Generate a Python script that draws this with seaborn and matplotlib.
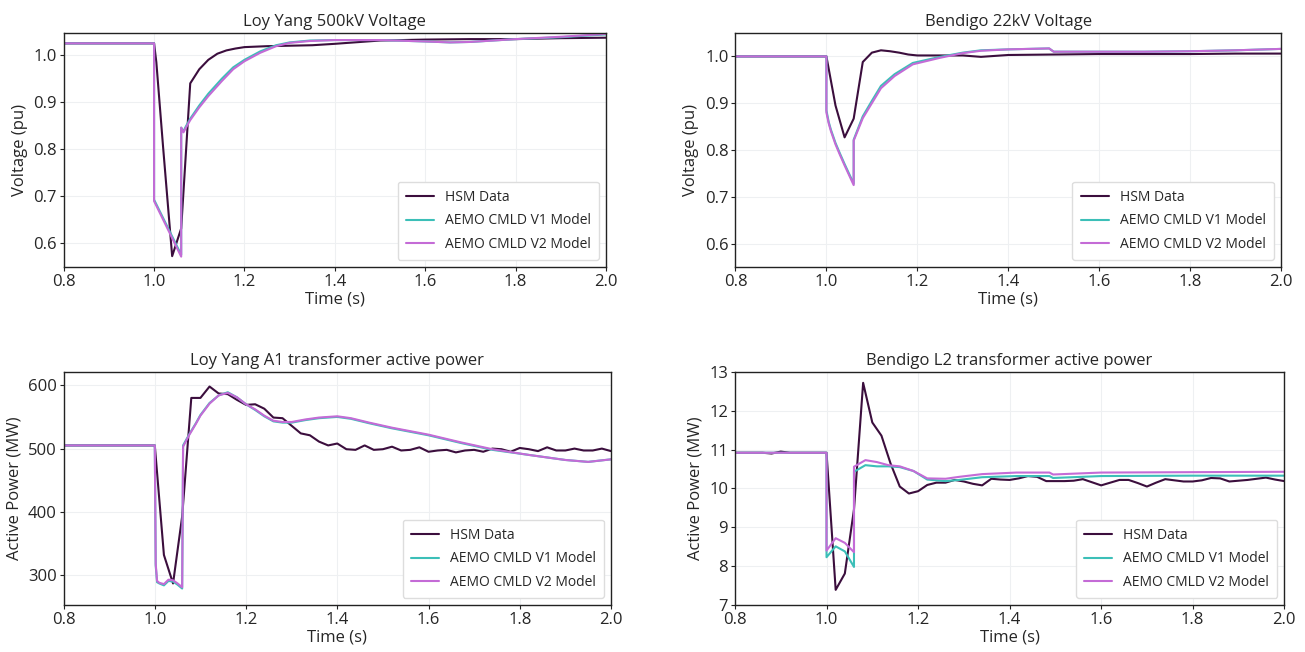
import numpy as np
import pandas as pd
import matplotlib
matplotlib.use("Agg")
import matplotlib.pyplot as plt
import seaborn as sns

# ---------------- data ----------------
# Panel 1: Loy Yang 500kV Voltage
ly_v_hsm_t = [0.8, 1.0, 1.005, 1.02, 1.04, 1.06, 1.08, 1.10, 1.12, 1.14, 1.16, 1.18, 1.20, 1.25,
              1.30, 1.35, 1.40, 1.50, 1.60, 1.70, 1.80, 1.90, 2.00]
ly_v_hsm = [1.025, 1.025, 0.985, 0.804, 0.573, 0.632, 0.940, 0.970, 0.990, 1.003, 1.010, 1.014, 1.017,
            1.019, 1.020, 1.021, 1.024, 1.031, 1.033, 1.034, 1.034, 1.036, 1.037]
ly_v_mod_t = [0.8, 1.0, 1.0, 1.06, 1.06, 1.065, 1.07, 1.08, 1.10, 1.12, 1.15, 1.175, 1.20, 1.235,
              1.27, 1.30, 1.345, 1.40, 1.50, 1.60, 1.655, 1.70, 1.80, 1.90, 2.00]
ly_v_v1 = [1.025, 1.025, 0.693, 0.576, 0.846, 0.838, 0.848, 0.865, 0.893, 0.918, 0.950, 0.974, 0.990,
           1.008, 1.021, 1.027, 1.031, 1.032, 1.032, 1.029, 1.027, 1.028, 1.034, 1.038, 1.044]
ly_v_v2 = [1.025, 1.025, 0.690, 0.572, 0.846, 0.836, 0.845, 0.862, 0.889, 0.913, 0.945, 0.970, 0.987,
           1.005, 1.019, 1.026, 1.030, 1.032, 1.032, 1.029, 1.027, 1.028, 1.034, 1.039, 1.045]

# Panel 2: Bendigo 22kV Voltage
bd_v_hsm_t = [0.8, 1.0, 1.02, 1.04, 1.06, 1.08, 1.10, 1.12, 1.14, 1.16, 1.18, 1.20, 1.25, 1.30,
              1.34, 1.40, 1.50, 1.60, 1.70, 1.80, 1.90, 2.00]
bd_v_hsm = [1.0, 1.0, 0.895, 0.827, 0.867, 0.988, 1.008, 1.013, 1.011, 1.008, 1.004, 1.002, 1.002,
            1.002, 0.999, 1.003, 1.004, 1.005, 1.005, 1.005, 1.006, 1.006]
bd_v_mod_t = [0.8, 1.0, 1.0, 1.005, 1.01, 1.02, 1.03, 1.04, 1.05, 1.06, 1.06, 1.08, 1.10, 1.12,
              1.15, 1.19, 1.25, 1.30, 1.34, 1.40, 1.49, 1.50, 1.60, 1.70, 1.80, 1.90, 2.00]
bd_v_v1 = [1.0, 1.0, 0.885, 0.860, 0.843, 0.815, 0.792, 0.770, 0.749, 0.728, 0.822, 0.872, 0.905,
           0.937, 0.962, 0.986, 0.999, 1.008, 1.013, 1.015, 1.017, 1.010, 1.010, 1.010, 1.011, 1.013, 1.016]
bd_v_v2 = [1.0, 1.0, 0.880, 0.857, 0.840, 0.812, 0.789, 0.767, 0.746, 0.725, 0.820, 0.868, 0.900,
           0.932, 0.958, 0.983, 0.997, 1.007, 1.012, 1.015, 1.017, 1.010, 1.010, 1.010, 1.011, 1.013, 1.016]

# Panel 3: Loy Yang A1 transformer active power
ly_p_hsm_t = [0.8, 1.0, 1.02, 1.04, 1.06, 1.08, 1.10, 1.12, 1.14, 1.16, 1.18, 1.20, 1.22, 1.24, 1.26,
              1.28, 1.30, 1.32, 1.34, 1.36, 1.38, 1.40, 1.42, 1.44, 1.46, 1.48, 1.50, 1.52, 1.54,
              1.56, 1.58, 1.60, 1.62, 1.64, 1.66, 1.68, 1.70, 1.72, 1.74, 1.76, 1.78, 1.80, 1.82,
              1.84, 1.86, 1.88, 1.90, 1.92, 1.94, 1.96, 1.98, 2.00]
ly_p_hsm = [505, 505, 332, 287, 393, 580, 580, 598, 587, 586, 577, 569, 570, 563, 549,
            548, 536, 524, 521, 511, 505, 508, 499, 498, 505, 498, 499, 503, 497,
            498, 502, 495, 497, 498, 494, 497, 498, 495, 500, 499, 495, 501, 499,
            496, 502, 497, 497, 500, 497, 497, 500, 496]
ly_p_mod_t = [0.8, 1.0, 1.002, 1.005, 1.01, 1.02, 1.03, 1.04, 1.05, 1.06, 1.062, 1.075, 1.09, 1.10,
              1.12, 1.14, 1.16, 1.18, 1.20, 1.22, 1.24, 1.26, 1.28, 1.30, 1.33, 1.36, 1.40, 1.43,
              1.47, 1.52, 1.60, 1.67, 1.74, 1.82, 1.90, 1.95, 2.00]
ly_p_v1 = [505, 505, 315, 289, 287, 284, 291, 290, 285, 279, 505, 522, 540, 553,
           572, 584, 589, 581, 570, 561, 551, 543, 541, 541, 545, 548, 550, 547,
           540, 532, 521, 509, 498, 490, 482, 479, 483]
ly_p_v2 = [505, 505, 318, 291, 288, 286, 293, 292, 287, 281, 503, 521, 539, 552,
           571, 584, 588, 581, 570, 562, 552, 544, 542, 542, 546, 549, 551, 548,
           541, 533, 522, 510, 499, 490, 482, 479, 483]

# Panel 4: Bendigo L2 transformer active power
bd_p_hsm_t = [0.8, 0.86, 0.88, 0.90, 0.92, 1.0, 1.02, 1.04, 1.06, 1.08, 1.10, 1.12, 1.14, 1.16, 1.18,
              1.20, 1.22, 1.24, 1.26, 1.28, 1.30, 1.32, 1.34, 1.36, 1.38, 1.40, 1.42, 1.44, 1.46,
              1.48, 1.50, 1.52, 1.54, 1.56, 1.58, 1.60, 1.62, 1.64, 1.66, 1.68, 1.70, 1.72, 1.74,
              1.76, 1.78, 1.80, 1.82, 1.84, 1.86, 1.88, 1.90, 1.92, 1.94, 1.96, 1.98, 2.00]
bd_p_hsm = [10.92, 10.92, 10.90, 10.95, 10.92, 10.92, 7.39, 7.81, 9.46, 12.72, 11.70, 11.36, 10.64,
            10.05, 9.87, 9.93, 10.09, 10.15, 10.15, 10.22, 10.18, 10.12, 10.08, 10.25, 10.23,
            10.22, 10.26, 10.32, 10.30, 10.19, 10.19, 10.19, 10.20, 10.24, 10.16, 10.08, 10.15,
            10.22, 10.22, 10.14, 10.05, 10.15, 10.24, 10.21, 10.18, 10.18, 10.21, 10.27, 10.26,
            10.18, 10.20, 10.22, 10.25, 10.28, 10.23, 10.19]
bd_p_mod_t = [0.8, 1.0, 1.0, 1.02, 1.04, 1.06, 1.06, 1.085, 1.11, 1.135, 1.16, 1.19, 1.22, 1.26,
              1.29, 1.34, 1.415, 1.487, 1.495, 1.60, 1.80, 2.00]
bd_p_v1 = [10.92, 10.92, 8.23, 8.51, 8.38, 7.98, 10.43, 10.60, 10.57, 10.57, 10.55, 10.45, 10.23,
           10.19, 10.22, 10.29, 10.32, 10.32, 10.27, 10.32, 10.33, 10.33]
bd_p_v2 = [10.92, 10.92, 8.40, 8.72, 8.60, 8.36, 10.56, 10.73, 10.68, 10.60, 10.57, 10.45, 10.26,
           10.25, 10.30, 10.37, 10.41, 10.41, 10.36, 10.41, 10.42, 10.43]

series_labels = ["HSM Data", "AEMO CMLD V1 Model", "AEMO CMLD V2 Model"]
titles = ["Loy Yang 500kV Voltage", "Bendigo 22kV Voltage",
          "Loy Yang A1 transformer active power", "Bendigo L2 transformer active power"]
ylabels = ["Voltage (pu)", "Voltage (pu)", "Active Power (MW)", "Active Power (MW)"]
xlabel = "Time (s)"

# ---------------- style ----------------
sns.set_style("whitegrid", {"grid.color": "#eef0f2", "axes.edgecolor": "#222222"})
plt.rcParams["font.family"] = ["Open Sans", "DejaVu Sans"]

colors = ["#3b0e3d", "#3cbfb8", "#c46bd6"]

fig = plt.figure(figsize=(13.05, 6.52), dpi=100)
rects = [
    [0.0488, 0.5905, 0.4156, 0.3589],
    [0.5636, 0.5905, 0.4180, 0.3589],
    [0.0487, 0.0721, 0.4195, 0.3574],
    [0.5632, 0.0721, 0.4209, 0.3574],
]
panels = [
    (ly_v_hsm_t, ly_v_hsm, ly_v_mod_t, ly_v_v1, ly_v_v2, (0.55, 1.047), [0.6, 0.7, 0.8, 0.9, 1.0], "{:.1f}"),
    (bd_v_hsm_t, bd_v_hsm, bd_v_mod_t, bd_v_v1, bd_v_v2, (0.55, 1.05), [0.6, 0.7, 0.8, 0.9, 1.0], "{:.1f}"),
    (ly_p_hsm_t, ly_p_hsm, ly_p_mod_t, ly_p_v1, ly_p_v2, (253, 621), [300, 400, 500, 600], "{:.0f}"),
    (bd_p_hsm_t, bd_p_hsm, bd_p_mod_t, bd_p_v1, bd_p_v2, (7, 13), [7, 8, 9, 10, 11, 12, 13], "{:.0f}"),
]

for i, (rect, p) in enumerate(zip(rects, panels)):
    th, h, tm, v1, v2, ylim, yt, fmt = p
    ax = fig.add_axes(rect)
    sns.lineplot(x=th, y=h, ax=ax, color=colors[0], lw=1.5, label=series_labels[0],
                 estimator=None, sort=False)
    sns.lineplot(x=tm, y=v1, ax=ax, color=colors[1], lw=1.5, label=series_labels[1],
                 estimator=None, sort=False)
    sns.lineplot(x=tm, y=v2, ax=ax, color=colors[2], lw=1.5, label=series_labels[2],
                 estimator=None, sort=False)
    ax.set_xlim(0.8, 2.0)
    ax.set_ylim(*ylim)
    ax.set_xticks([0.8, 1.0, 1.2, 1.4, 1.6, 1.8, 2.0])
    ax.set_xticklabels([f"{x:.1f}" for x in [0.8, 1.0, 1.2, 1.4, 1.6, 1.8, 2.0]])
    ax.set_yticks(yt)
    ax.set_yticklabels([fmt.format(y) for y in yt])
    ax.tick_params(axis="both", labelsize=12, length=3, pad=2, left=True, bottom=True, color="#222222")
    ax.set_title(titles[i], fontsize=12, pad=5)
    ax.set_xlabel(xlabel, fontsize=12, labelpad=1)
    ax.set_ylabel(ylabels[i], fontsize=12, labelpad=4)
    for s in ax.spines.values():
        s.set_linewidth(1.0)
    ax.grid(True, lw=0.8)
    ax.legend(loc="lower right", fontsize=10, frameon=True, framealpha=1.0,
              edgecolor="#dddddd", handlelength=2.0, borderpad=0.6, labelspacing=0.6)

fig.savefig("out.png", dpi=100)
